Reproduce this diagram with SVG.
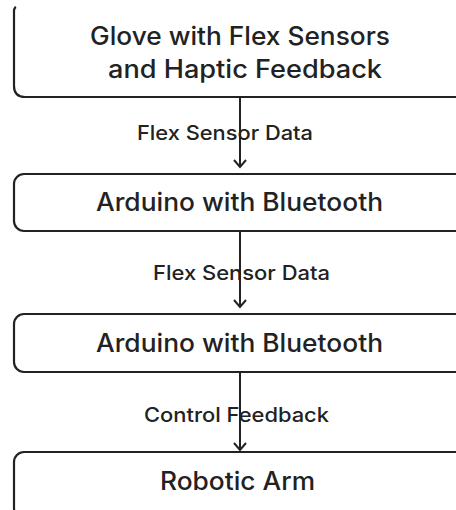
<svg xmlns="http://www.w3.org/2000/svg" width="456" height="510" viewBox="0 0 456 510">
  <style>
    .box { fill: #ffffff; stroke: #222222; stroke-width: 2.2; }
    .node { font-family: Inter, "Open Sans", "Liberation Sans", sans-serif; font-size: 25px; fill: #222222; font-weight: 500; }
    .lbl { font-family: Inter, "Open Sans", "Liberation Sans", sans-serif; font-size: 20px; fill: #222222; font-weight: 500; }
    .conn { stroke: #222222; stroke-width: 2; fill: none; }
  </style>
  <defs>
    <marker id="arr" viewBox="0 0 10 14" refX="8" refY="7" markerWidth="10" markerHeight="14" markerUnits="userSpaceOnUse" orient="auto">
      <path d="M1 1 L8 7 L1 13" fill="none" stroke="#222222" stroke-width="2"/>
    </marker>
  </defs>
  <rect width="456" height="510" fill="#ffffff"/>

  <g id="node-glove">
    <path class="box" d="M16 7 Q14 8 14 11 L14 86 Q14 97 25 97 L470 97"/>
    <text class="node" x="90" y="45" textLength="300" lengthAdjust="spacingAndGlyphs">Glove with Flex Sensors</text>
    <text class="node" x="108" y="78" textLength="274" lengthAdjust="spacingAndGlyphs">and Haptic Feedback</text>
  </g>

  <g id="node-arduino1">
    <rect class="box" x="14" y="174" width="470" height="57" rx="10"/>
    <text class="node" x="96" y="211" textLength="287" lengthAdjust="spacingAndGlyphs">Arduino with Bluetooth</text>
  </g>

  <g id="node-arduino2">
    <rect class="box" x="14" y="314" width="470" height="58" rx="10"/>
    <text class="node" x="96" y="352" textLength="287" lengthAdjust="spacingAndGlyphs">Arduino with Bluetooth</text>
  </g>

  <g id="node-arm">
    <rect class="box" x="14" y="452" width="470" height="66" rx="10"/>
    <text class="node" x="160" y="490" textLength="155" lengthAdjust="spacingAndGlyphs">Robotic Arm</text>
  </g>

  <g id="connectors">
    <text class="lbl" x="137" y="140" textLength="176" lengthAdjust="spacingAndGlyphs">Flex Sensor Data</text>
    <line class="conn" x1="240" y1="97" x2="240" y2="167" marker-end="url(#arr)"/>
    <text class="lbl" x="153" y="280" textLength="177" lengthAdjust="spacingAndGlyphs">Flex Sensor Data</text>
    <line class="conn" x1="240" y1="231" x2="240" y2="307" marker-end="url(#arr)"/>
    <text class="lbl" x="144" y="422" textLength="185" lengthAdjust="spacingAndGlyphs">Control Feedback</text>
    <line class="conn" x1="240" y1="372" x2="240" y2="450" marker-end="url(#arr)"/>
  </g>
</svg>
